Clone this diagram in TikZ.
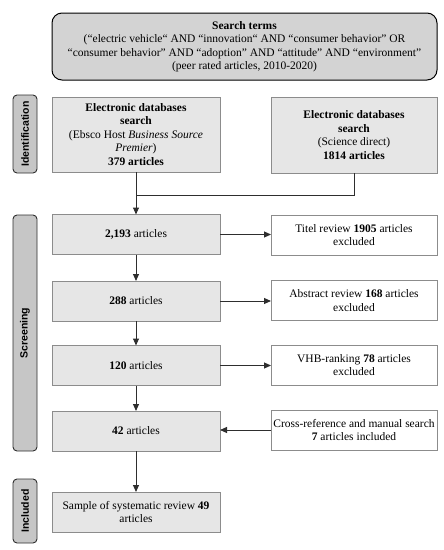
\documentclass[tikz,border=0pt]{standalone}
\usepackage{fontspec}
\setmainfont{Liberation Serif}
\newfontfamily\sidefont{Liberation Sans}
\usetikzlibrary{arrows.meta}
\definecolor{boxfill}{HTML}{E6E6E6}
\definecolor{searchfill}{HTML}{D3D3D3}
\definecolor{sidefill}{HTML}{C6C6C6}
\definecolor{boxline}{HTML}{8C8C8C}
\definecolor{conn}{HTML}{2E2E2E}
\begin{document}
\begin{tikzpicture}[x=1pt,y=-1pt,
  every node/.style={inner sep=0pt,outer sep=0pt,font=\fontsize{11.5}{13.5}\selectfont,align=center},
  graybox/.style={draw=boxline,fill=boxfill,line width=0.9pt,minimum width=168pt,minimum height=40pt},
  whitebox/.style={draw=boxline,fill=white,line width=0.9pt,minimum width=166pt,minimum height=40pt},
  sidelabel/.style={draw=conn,fill=sidefill,line width=0.9pt,rounded corners=4pt,minimum height=24pt,rotate=90,font=\sidefont\bfseries\fontsize{10.5}{12}\selectfont},
  conn/.style={draw=conn,line width=1pt},
  arr/.style={conn,-{Triangle[length=7pt,width=6pt]}}
]
\useasboundingbox (0,0) rectangle (444,550);
% search terms
\node[draw=black,fill=searchfill,line width=1pt,rounded corners=10pt,minimum width=385pt,minimum height=67pt] (search) at (244.5,46.5)
 {\textbf{Search terms}\\
  (“electric vehicle“ AND “innovation“ AND “consumer behavior” OR\\
  “consumer behavior” AND “adoption” AND “attitude” AND “environment”\\
  (peer rated articles, 2010-2020)};
% side labels
\node[sidelabel,minimum width=78pt] (ident) at (25,134) {Identification};
\node[sidelabel,minimum width=236pt] (screen) at (25,333) {Screening};
\node[sidelabel,minimum width=64pt] (incl) at (25,511) {Included};
% identification
\node[graybox,minimum height=75pt] (ebsco) at (136,134.5)
 {\textbf{Electronic databases}\\ \textbf{search}\\ (Ebsco Host \textit{Business Source}\\ \textit{Premier})\\ \textbf{379 articles}};
\node[whitebox,fill=boxfill,minimum height=76pt] (sd) at (354,135)
 {\textbf{Electronic databases}\\ \textbf{search}\\ (Science direct)\\ \textbf{1814 articles}};
% screening
\node[graybox] (a2193) at (136,234.5) {\textbf{2,193} articles};
\node[graybox] (a288) at (136,301) {\textbf{288} articles};
\node[graybox] (a120) at (136,365.5) {\textbf{120} articles};
\node[graybox] (a42) at (136,431) {\textbf{42} articles};
\node[graybox] (sample) at (136,512) {Sample of systematic review \textbf{49}\\ articles};
\node[whitebox] (titel) at (354,235) {Titel review \textbf{1905} articles\\ excluded};
\node[whitebox] (abstr) at (354,300.5) {Abstract review \textbf{168} articles\\ excluded};
\node[whitebox] (vhb) at (354,365) {VHB-ranking \textbf{78} articles\\ excluded};
\node[whitebox] (cross) at (354,430) {Cross-reference and manual search\\ \textbf{7} articles included};
% connectors
\coordinate (j) at (ebsco.south |- 0,195);
\draw[conn] (sd.south) |- (j);
\draw[arr] (ebsco.south) -- (a2193.north);
\draw[arr] (a2193.south) -- (a288.north);
\draw[arr] (a288.south) -- (a120.north);
\draw[arr] (a120.south) -- (a42.north);
\draw[arr] (a42.south) -- (sample.north);
\draw[arr] (a2193.east) -- (a2193.east -| titel.west);
\draw[arr] (a288.east) -- (a288.east -| abstr.west);
\draw[arr] (a120.east) -- (a120.east -| vhb.west);
\draw[arr] (cross.west) -- (cross.west -| a42.east);
\end{tikzpicture}
\end{document}
